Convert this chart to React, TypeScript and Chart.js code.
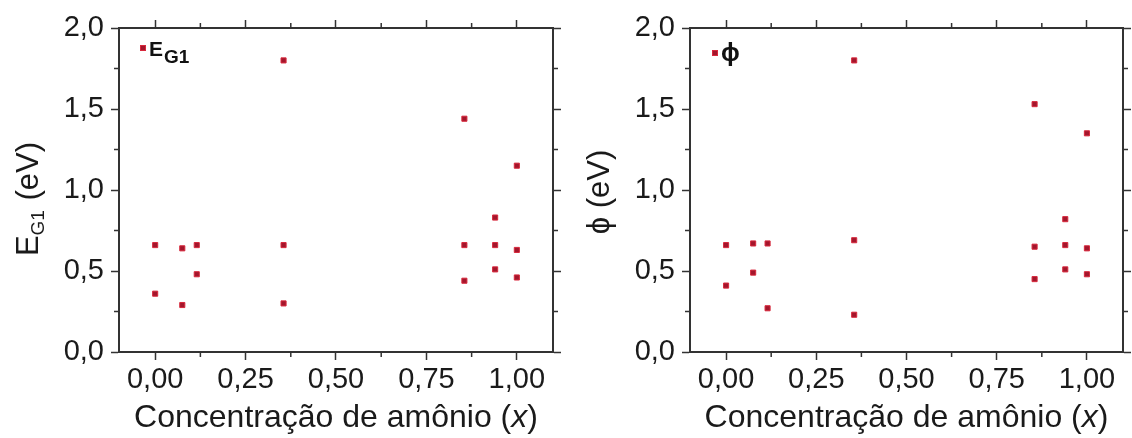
import React, { useEffect, useRef } from 'react';
import { Chart, registerables } from 'chart.js';

Chart.register(...registerables);

// ---------- data ----------
const concentrationX = [0, 0, 0.075, 0.075, 0.115, 0.115, 0.355, 0.355, 0.355, 0.855, 0.855, 0.855, 0.94, 0.94, 0.94, 1.0, 1.0, 1.0];
const eg1Values = [0.66, 0.36, 0.64, 0.29, 0.66, 0.48, 1.80, 0.66, 0.30, 1.44, 0.66, 0.44, 0.83, 0.66, 0.51, 1.15, 0.63, 0.46];
const phiValues = [0.66, 0.41, 0.67, 0.49, 0.67, 0.27, 1.80, 0.69, 0.23, 1.53, 0.65, 0.45, 0.82, 0.66, 0.51, 1.35, 0.64, 0.48];

const xTickValues = [0, 0.25, 0.5, 0.75, 1.0];
const xTickLabels = ['0,00', '0,25', '0,50', '0,75', '1,00'];
const xMinorValues = [0.125, 0.375, 0.625, 0.875];
const yTickValues = [0, 0.5, 1.0, 1.5, 2.0];
const yTickLabels = ['0,0', '0,5', '1,0', '1,5', '2,0'];
const yMinorValues = [0.25, 0.75, 1.25, 1.75];

const xTitleParts = ['Concentração de amônio (', 'x', ')'];

// ---------- style ----------
const FONT = "'Liberation Sans', Arial, Helvetica, sans-serif";
const AXIS_COLOR = '#333333';
const TEXT_COLOR = '#1a1a1a';
const POINT_FILL = '#a3162c';
const POINT_BORDER = '#d8283c';
const MAJOR_LEN = 8;
const MINOR_LEN = 5;

type Panel = {
  values: number[];
  yWidth: number;
  y2Width: number;
  titleMain: string;
  titleSub: string;
  titleRest: string;
  titleBaseX: number;
  titleCenterY: number;
  legendMain: string;
  legendSub: string;
  legendDx: number;
  legendDy: number;
  legendSize: number;
};

const panels: Panel[] = [
  {
    values: eg1Values,
    yWidth: 119,
    y2Width: 13,
    titleMain: 'E',
    titleSub: 'G1',
    titleRest: ' (eV)',
    titleBaseX: 38,
    titleCenterY: 199,
    legendMain: 'E',
    legendSub: 'G1',
    legendDx: 24,
    legendDy: 20,
    legendSize: 21,
  },
  {
    values: phiValues,
    yWidth: 124,
    y2Width: 9,
    titleMain: 'ϕ',
    titleSub: '',
    titleRest: ' (eV)',
    titleBaseX: 43,
    titleCenterY: 192,
    legendMain: 'ϕ',
    legendSub: '',
    legendDx: 25,
    legendDy: 25,
    legendSize: 25,
  },
];

const decorPlugin = {
  id: 'decor',
  afterDraw(chart: any, _args: any, opts: any) {
    const spec: Panel = opts.spec;
    const { ctx, chartArea: ca, scales } = chart;
    const xs = scales.x;
    const ys = scales.y;
    ctx.save();
    // minor ticks on all four sides
    ctx.strokeStyle = AXIS_COLOR;
    ctx.lineWidth = 1.5;
    ctx.beginPath();
    for (const v of xMinorValues) {
      const p = xs.getPixelForValue(v);
      ctx.moveTo(p, ca.bottom);
      ctx.lineTo(p, ca.bottom + MINOR_LEN);
      ctx.moveTo(p, ca.top);
      ctx.lineTo(p, ca.top - MINOR_LEN);
    }
    for (const v of yMinorValues) {
      const p = ys.getPixelForValue(v);
      ctx.moveTo(ca.left - MINOR_LEN, p);
      ctx.lineTo(ca.left, p);
      ctx.moveTo(ca.right, p);
      ctx.lineTo(ca.right + MINOR_LEN, p);
    }
    ctx.stroke();

    // x-axis title with italic x
    ctx.fillStyle = TEXT_COLOR;
    ctx.textBaseline = 'alphabetic';
    ctx.textAlign = 'left';
    const regular = `32px ${FONT}`;
    const italic = `italic 32px ${FONT}`;
    ctx.font = regular;
    const w0 = ctx.measureText(xTitleParts[0]).width;
    const w2 = ctx.measureText(xTitleParts[2]).width;
    ctx.font = italic;
    const w1 = ctx.measureText(xTitleParts[1]).width;
    let tx = (ca.left + ca.right) / 2 - (w0 + w1 + w2) / 2;
    const ty = ca.bottom + 75;
    ctx.font = regular;
    ctx.fillText(xTitleParts[0], tx, ty);
    tx += w0;
    ctx.font = italic;
    ctx.fillText(xTitleParts[1], tx, ty);
    tx += w1;
    ctx.font = regular;
    ctx.fillText(xTitleParts[2], tx, ty);

    // y-axis title (rotated) with subscript
    ctx.save();
    ctx.translate(spec.titleBaseX, spec.titleCenterY);
    ctx.rotate(-Math.PI / 2);
    const mainFont = `31px ${FONT}`;
    const subFont = `19px ${FONT}`;
    ctx.font = mainFont;
    const m1 = ctx.measureText(spec.titleMain).width;
    const m3 = ctx.measureText(spec.titleRest).width;
    ctx.font = subFont;
    const m2 = spec.titleSub ? ctx.measureText(spec.titleSub).width + 1 : 0;
    let rx = -(m1 + m2 + m3) / 2;
    ctx.font = mainFont;
    ctx.fillText(spec.titleMain, rx, 0);
    rx += m1;
    if (spec.titleSub) {
      ctx.font = subFont;
      ctx.fillText(spec.titleSub, rx, 6);
      rx += m2;
    }
    ctx.font = mainFont;
    ctx.fillText(spec.titleRest, rx, 0);
    ctx.restore();

    // in-plot legend
    const ds = chart.data.datasets[0];
    const lx = ca.left + spec.legendDx;
    const ly = ca.top + spec.legendDy;
    ctx.fillStyle = ds.backgroundColor;
    ctx.strokeStyle = ds.borderColor;
    ctx.lineWidth = 1;
    ctx.fillRect(lx - 2.5, ly - 2.5, 5, 5);
    ctx.strokeRect(lx - 2.5, ly - 2.5, 5, 5);
    ctx.fillStyle = '#111';
    ctx.font = `bold ${spec.legendSize}px ${FONT}`;
    const lm = ctx.measureText(spec.legendMain).width;
    ctx.fillText(spec.legendMain, lx + 6, ly + 8);
    if (spec.legendSub) {
      ctx.font = `bold ${spec.legendSize - 2}px ${FONT}`;
      ctx.fillText(spec.legendSub, lx + 7 + lm, ly + 15);
    }
    ctx.restore();
  },
};

function axisCommon(position: string, isX: boolean, showLabels: boolean, size: number) {
  const values = isX ? xTickValues : yTickValues;
  const labels = isX ? xTickLabels : yTickLabels;
  return {
    type: 'linear',
    position,
    min: isX ? -0.1 : 0,
    max: isX ? 1.1 : 2.0,
    afterBuildTicks: (scale: any) => {
      scale.ticks = values.map((v) => ({ value: v }));
    },
    afterFit: (scale: any) => {
      if (isX) scale.height = size;
      else scale.width = size;
    },
    border: { display: true, color: AXIS_COLOR, width: 2 },
    grid: {
      display: true,
      drawOnChartArea: false,
      drawTicks: true,
      tickLength: MAJOR_LEN,
      tickColor: AXIS_COLOR,
      tickWidth: 1.5,
      color: AXIS_COLOR,
    },
    ticks: {
      display: showLabels,
      autoSkip: false,
      maxRotation: 0,
      minRotation: 0,
      padding: isX ? 3 : 7,
      color: TEXT_COLOR,
      font: { family: FONT, size: 29 },
      callback: (_v: any, i: number) => labels[i],
    },
  };
}

function PanelChart({ spec, left }: { spec: Panel; left: number }) {
  const ref = useRef<HTMLCanvasElement | null>(null);
  useEffect(() => {
    if (!ref.current) return;
    const chart = new Chart(ref.current, {
      type: 'scatter',
      data: {
        datasets: [
          {
            data: concentrationX.map((x, i) => ({ x, y: spec.values[i] })),
            pointStyle: 'rect',
            pointRadius: 3.6,
            pointHoverRadius: 3.6,
            backgroundColor: POINT_FILL,
            borderColor: POINT_BORDER,
            borderWidth: 1,
            showLine: false,
          },
        ],
      },
      options: {
        animation: false,
        responsive: false,
        devicePixelRatio: 1,
        layout: { padding: 0 },
        plugins: {
          legend: { display: false },
          tooltip: { enabled: false },
          decor: { spec },
        } as any,
        scales: {
          x: axisCommon('bottom', true, true, 86),
          x2: axisCommon('top', true, false, 28),
          y: axisCommon('left', false, true, spec.yWidth),
          y2: axisCommon('right', false, false, spec.y2Width),
        } as any,
      },
      plugins: [decorPlugin as any],
    });
    return () => chart.destroy();
  }, [spec]);
  return (
    <canvas
      ref={ref}
      width={566}
      height={438}
      style={{ position: 'absolute', left, top: 0, width: 566, height: 438, display: 'block' }}
    />
  );
}

export default function App() {
  return (
    <div style={{ position: 'absolute', left: 0, top: 0, width: 1132, height: 438, background: '#ffffff', overflow: 'hidden' }}>
      <PanelChart spec={panels[0]} left={0} />
      <PanelChart spec={panels[1]} left={566} />
    </div>
  );
}
